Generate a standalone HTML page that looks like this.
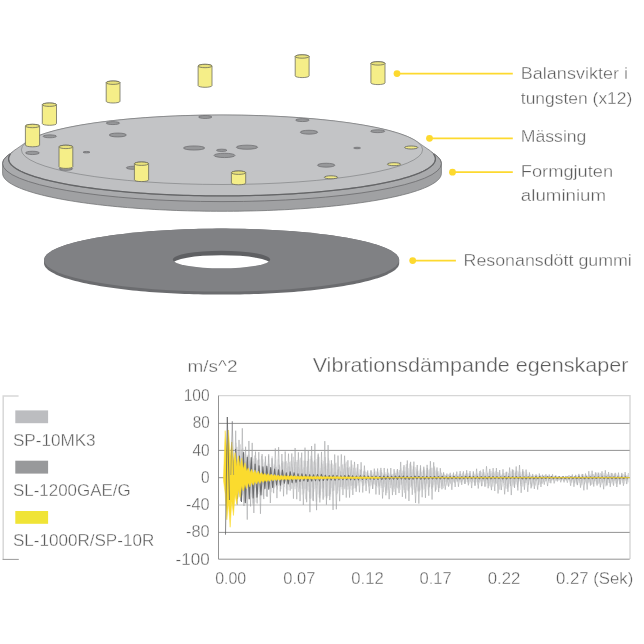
<!DOCTYPE html>
<html lang="sv"><head><meta charset="utf-8"><title>Vibrationsdämpande egenskaper</title>
<style>
html,body{margin:0;padding:0;background:#fff}
svg{display:block}
text{font-family:"Liberation Sans",sans-serif;fill:#5c5c5c;stroke:#fff;stroke-width:0.34px}
</style></head><body>
<svg width="644" height="644" viewBox="0 0 644 644">
<path d="M44 260.1 L44.06 259.27 L44.24 258.45 L44.55 257.63 L44.97 256.81 L45.52 255.99 L46.19 255.17 L46.97 254.36 L47.88 253.55 L48.91 252.75 L50.05 251.95 L51.31 251.15 L52.69 250.37 L54.19 249.59 L55.8 248.81 L57.52 248.04 L59.35 247.29 L61.3 246.54 L63.36 245.8 L65.52 245.07 L67.79 244.35 L70.17 243.64 L72.65 242.94 L75.23 242.26 L77.92 241.59 L80.7 240.92 L83.58 240.28 L86.55 239.64 L89.62 239.02 L92.77 238.42 L96.02 237.83 L99.35 237.25 L102.76 236.69 L106.26 236.15 L109.83 235.62 L113.48 235.11 L117.21 234.62 L121.01 234.14 L124.87 233.68 L128.8 233.24 L132.8 232.82 L136.86 232.42 L140.97 232.03 L145.14 231.67 L149.36 231.32 L153.63 231 L157.95 230.69 L162.32 230.41 L166.72 230.14 L171.16 229.9 L175.63 229.67 L180.14 229.47 L184.68 229.29 L189.24 229.13 L193.82 228.99 L198.42 228.87 L203.04 228.77 L207.67 228.7 L212.31 228.64 L216.95 228.61 L221.6 228.6 L226.25 228.61 L230.9 228.64 L235.53 228.7 L240.16 228.77 L244.78 228.87 L249.38 228.99 L253.97 229.13 L258.52 229.29 L263.06 229.47 L267.57 229.67 L272.04 229.9 L276.48 230.14 L280.88 230.41 L285.25 230.69 L289.56 231 L293.84 231.32 L298.06 231.67 L302.23 232.03 L306.34 232.42 L310.4 232.82 L314.4 233.24 L318.33 233.68 L322.19 234.14 L325.99 234.62 L329.72 235.11 L333.37 235.62 L336.94 236.15 L340.44 236.69 L343.85 237.25 L347.18 237.83 L350.43 238.42 L353.58 239.02 L356.65 239.64 L359.62 240.28 L362.5 240.92 L365.28 241.59 L367.96 242.26 L370.55 242.94 L373.03 243.64 L375.41 244.35 L377.68 245.07 L379.84 245.8 L381.9 246.54 L383.85 247.29 L385.68 248.04 L387.4 248.81 L389.01 249.59 L390.51 250.37 L391.89 251.15 L393.15 251.95 L394.29 252.75 L395.32 253.55 L396.23 254.36 L397.01 255.17 L397.68 255.99 L398.23 256.81 L398.65 257.63 L398.96 258.45 L399.14 259.27 L399.2 260.1 L399.2 263.1 L399.14 263.93 L398.96 264.75 L398.65 265.57 L398.23 266.39 L397.68 267.21 L397.01 268.03 L396.23 268.84 L395.32 269.65 L394.29 270.45 L393.15 271.25 L391.89 272.05 L390.51 272.83 L389.01 273.62 L387.4 274.39 L385.68 275.15 L383.85 275.91 L381.9 276.66 L379.84 277.4 L377.68 278.13 L375.41 278.85 L373.03 279.56 L370.55 280.26 L367.96 280.94 L365.28 281.62 L362.5 282.28 L359.62 282.92 L356.65 283.56 L353.58 284.18 L350.43 284.78 L347.18 285.37 L343.85 285.95 L340.44 286.51 L336.94 287.05 L333.37 287.58 L329.72 288.09 L325.99 288.58 L322.19 289.06 L318.33 289.52 L314.4 289.96 L310.4 290.38 L306.34 290.78 L302.23 291.17 L298.06 291.53 L293.84 291.88 L289.56 292.2 L285.25 292.51 L280.88 292.79 L276.48 293.06 L272.04 293.3 L267.57 293.53 L263.06 293.73 L258.52 293.91 L253.97 294.07 L249.38 294.21 L244.78 294.33 L240.16 294.43 L235.53 294.5 L230.9 294.56 L226.25 294.59 L221.6 294.6 L216.95 294.59 L212.31 294.56 L207.67 294.5 L203.04 294.43 L198.42 294.33 L193.82 294.21 L189.24 294.07 L184.68 293.91 L180.14 293.73 L175.63 293.53 L171.16 293.3 L166.72 293.06 L162.32 292.79 L157.95 292.51 L153.63 292.2 L149.36 291.88 L145.14 291.53 L140.97 291.17 L136.86 290.78 L132.8 290.38 L128.8 289.96 L124.87 289.52 L121.01 289.06 L117.21 288.58 L113.48 288.09 L109.83 287.58 L106.26 287.05 L102.76 286.51 L99.35 285.95 L96.02 285.37 L92.77 284.78 L89.62 284.18 L86.55 283.56 L83.58 282.92 L80.7 282.28 L77.92 281.62 L75.23 280.94 L72.65 280.26 L70.17 279.56 L67.79 278.85 L65.52 278.13 L63.36 277.4 L61.3 276.66 L59.35 275.91 L57.52 275.15 L55.8 274.39 L54.19 273.62 L52.69 272.83 L51.31 272.05 L50.05 271.25 L48.91 270.45 L47.88 269.65 L46.97 268.84 L46.19 268.03 L45.52 267.21 L44.97 266.39 L44.55 265.57 L44.24 264.75 L44.06 263.93 L44 263.1Z" fill="#6b6c6f"/>
<ellipse cx="221.6" cy="260.1" rx="177.6" ry="31.5" fill="#808184"/>
<ellipse cx="221.5" cy="259.55" rx="48.7" ry="8.75" fill="#5f6063"/>
<clipPath id="hc"><ellipse cx="221.5" cy="259.55" rx="48.7" ry="8.75"/></clipPath>
<ellipse cx="221.5" cy="263.9" rx="48.7" ry="8.75" fill="#fff" clip-path="url(#hc)"/>
<path d="M2.6 163.6 L2.67 162.6 L2.9 161.61 L3.28 160.62 L3.8 159.63 L4.48 158.64 L5.3 157.66 L6.27 156.68 L7.39 155.7 L8.66 154.73 L10.08 153.76 L11.63 152.81 L13.34 151.86 L15.18 150.91 L17.17 149.98 L19.3 149.06 L21.57 148.14 L23.97 147.24 L26.51 146.35 L29.19 145.47 L31.99 144.6 L34.93 143.75 L38 142.9 L41.19 142.08 L44.5 141.26 L47.94 140.47 L51.49 139.69 L55.17 138.92 L58.95 138.17 L62.85 137.44 L66.86 136.73 L70.97 136.04 L75.19 135.36 L79.51 134.71 L83.93 134.07 L88.44 133.45 L93.04 132.86 L97.73 132.28 L102.51 131.73 L107.36 131.2 L112.3 130.69 L117.31 130.21 L122.39 129.74 L127.55 129.3 L132.76 128.88 L138.04 128.49 L143.37 128.12 L148.76 127.78 L154.2 127.46 L159.69 127.17 L165.22 126.89 L170.78 126.65 L176.38 126.43 L182.02 126.24 L187.68 126.07 L193.36 125.92 L199.07 125.81 L204.79 125.72 L210.52 125.65 L216.26 125.61 L222 125.6 L227.74 125.61 L233.48 125.65 L239.21 125.72 L244.93 125.81 L250.64 125.92 L256.32 126.07 L261.98 126.24 L267.62 126.43 L273.22 126.65 L278.79 126.89 L284.31 127.17 L289.8 127.46 L295.24 127.78 L300.63 128.12 L305.96 128.49 L311.24 128.88 L316.45 129.3 L321.61 129.74 L326.69 130.21 L331.7 130.69 L336.64 131.2 L341.49 131.73 L346.27 132.28 L350.96 132.86 L355.56 133.45 L360.07 134.07 L364.49 134.71 L368.81 135.36 L373.02 136.04 L377.14 136.73 L381.15 137.44 L385.05 138.17 L388.83 138.92 L392.51 139.69 L396.06 140.47 L399.5 141.26 L402.81 142.08 L406 142.9 L409.07 143.75 L412.01 144.6 L414.81 145.47 L417.49 146.35 L420.03 147.24 L422.43 148.14 L424.7 149.06 L426.83 149.98 L428.82 150.91 L430.66 151.86 L432.37 152.81 L433.92 153.76 L435.34 154.73 L436.61 155.7 L437.73 156.68 L438.7 157.66 L439.52 158.64 L440.2 159.63 L440.72 160.62 L441.1 161.61 L441.32 162.6 L441.4 163.6 L441.4 173.3 L441.32 174.29 L441.1 175.29 L440.72 176.28 L440.2 177.27 L439.52 178.26 L438.7 179.25 L437.73 180.22 L436.61 181.2 L435.34 182.17 L433.92 183.13 L432.37 184.09 L430.66 185.04 L428.82 185.99 L426.83 186.92 L424.7 187.84 L422.43 188.76 L420.03 189.66 L417.49 190.55 L414.81 191.43 L412.01 192.3 L409.07 193.16 L406 194 L402.81 194.82 L399.5 195.64 L396.06 196.43 L392.51 197.21 L388.83 197.98 L385.05 198.73 L381.15 199.46 L377.14 200.17 L373.02 200.86 L368.81 201.54 L364.49 202.19 L360.07 202.83 L355.56 203.45 L350.96 204.04 L346.27 204.62 L341.49 205.17 L336.64 205.7 L331.7 206.21 L326.69 206.69 L321.61 207.16 L316.45 207.6 L311.24 208.01 L305.96 208.41 L300.63 208.78 L295.24 209.12 L289.8 209.44 L284.31 209.74 L278.79 210 L273.22 210.25 L267.62 210.47 L261.98 210.66 L256.32 210.83 L250.64 210.97 L244.93 211.09 L239.21 211.18 L233.48 211.25 L227.74 211.29 L222 211.3 L216.26 211.29 L210.52 211.25 L204.79 211.18 L199.07 211.09 L193.36 210.97 L187.68 210.83 L182.02 210.66 L176.38 210.47 L170.78 210.25 L165.22 210 L159.69 209.74 L154.2 209.44 L148.76 209.12 L143.37 208.78 L138.04 208.41 L132.76 208.01 L127.55 207.6 L122.39 207.16 L117.31 206.69 L112.3 206.21 L107.36 205.7 L102.51 205.17 L97.73 204.62 L93.04 204.04 L88.44 203.45 L83.93 202.83 L79.51 202.19 L75.19 201.54 L70.97 200.86 L66.86 200.17 L62.85 199.46 L58.95 198.73 L55.17 197.98 L51.49 197.21 L47.94 196.43 L44.5 195.64 L41.19 194.82 L38 194 L34.93 193.16 L31.99 192.3 L29.19 191.43 L26.51 190.55 L23.97 189.66 L21.57 188.76 L19.3 187.84 L17.17 186.92 L15.18 185.99 L13.34 185.04 L11.63 184.09 L10.08 183.13 L8.66 182.17 L7.39 181.2 L6.27 180.22 L5.3 179.25 L4.48 178.26 L3.8 177.27 L3.28 176.28 L2.9 175.29 L2.67 174.29 L2.6 173.3Z" fill="#a0a1a3" stroke="#696a6c" stroke-width="0.7"/>
<ellipse cx="222" cy="163.6" rx="219.4" ry="38" fill="#a9aaac" stroke="#696a6c" stroke-width="0.8"/>
<path d="M8.6 158.9 L8.67 157.93 L8.89 156.96 L9.26 156 L9.77 155.03 L10.43 154.07 L11.23 153.11 L12.17 152.16 L13.26 151.21 L14.5 150.26 L15.87 149.32 L17.39 148.39 L19.05 147.47 L20.84 146.55 L22.77 145.64 L24.84 144.74 L27.05 143.85 L29.39 142.97 L31.86 142.1 L34.46 141.25 L37.19 140.4 L40.05 139.57 L43.03 138.75 L46.13 137.94 L49.36 137.15 L52.7 136.38 L56.16 135.62 L59.73 134.87 L63.41 134.14 L67.2 133.43 L71.1 132.74 L75.11 132.06 L79.21 131.4 L83.41 130.76 L87.7 130.15 L92.09 129.55 L96.57 128.97 L101.13 128.41 L105.77 127.87 L110.5 127.35 L115.3 126.86 L120.17 126.38 L125.12 125.93 L130.13 125.5 L135.2 125.1 L140.34 124.72 L145.52 124.36 L150.77 124.02 L156.06 123.71 L161.39 123.42 L166.77 123.16 L172.18 122.92 L177.63 122.71 L183.11 122.52 L188.62 122.36 L194.15 122.22 L199.69 122.1 L205.26 122.01 L210.83 121.95 L216.41 121.91 L222 121.9 L227.59 121.91 L233.17 121.95 L238.74 122.01 L244.31 122.1 L249.85 122.22 L255.38 122.36 L260.89 122.52 L266.37 122.71 L271.82 122.92 L277.23 123.16 L282.61 123.42 L287.94 123.71 L293.23 124.02 L298.48 124.36 L303.67 124.72 L308.8 125.1 L313.87 125.5 L318.88 125.93 L323.83 126.38 L328.7 126.86 L333.5 127.35 L338.23 127.87 L342.87 128.41 L347.43 128.97 L351.91 129.55 L356.3 130.15 L360.59 130.76 L364.79 131.4 L368.89 132.06 L372.9 132.74 L376.8 133.43 L380.59 134.14 L384.27 134.87 L387.84 135.62 L391.3 136.38 L394.64 137.15 L397.87 137.94 L400.97 138.75 L403.95 139.57 L406.81 140.4 L409.54 141.25 L412.14 142.1 L414.61 142.97 L416.95 143.85 L419.16 144.74 L421.23 145.64 L423.16 146.55 L424.95 147.47 L426.61 148.39 L428.13 149.32 L429.5 150.26 L430.74 151.21 L431.83 152.16 L432.77 153.11 L433.57 154.07 L434.23 155.03 L434.74 156 L435.11 156.96 L435.33 157.93 L435.4 158.9 L435.4 163.5 L435.33 164.47 L435.11 165.44 L434.74 166.4 L434.23 167.37 L433.57 168.33 L432.77 169.29 L431.83 170.24 L430.74 171.19 L429.5 172.14 L428.13 173.08 L426.61 174.01 L424.95 174.93 L423.16 175.85 L421.23 176.76 L419.16 177.66 L416.95 178.55 L414.61 179.43 L412.14 180.3 L409.54 181.16 L406.81 182 L403.95 182.83 L400.97 183.65 L397.87 184.46 L394.64 185.25 L391.3 186.02 L387.84 186.78 L384.27 187.53 L380.59 188.26 L376.8 188.97 L372.9 189.66 L368.89 190.34 L364.79 191 L360.59 191.63 L356.3 192.25 L351.91 192.85 L347.43 193.43 L342.87 193.99 L338.23 194.53 L333.5 195.05 L328.7 195.54 L323.83 196.02 L318.88 196.47 L313.87 196.9 L308.8 197.3 L303.67 197.68 L298.48 198.04 L293.23 198.38 L287.94 198.69 L282.61 198.98 L277.23 199.24 L271.82 199.48 L266.37 199.69 L260.89 199.88 L255.38 200.04 L249.85 200.18 L244.31 200.3 L238.74 200.39 L233.17 200.45 L227.59 200.49 L222 200.5 L216.41 200.49 L210.83 200.45 L205.26 200.39 L199.69 200.3 L194.15 200.18 L188.62 200.04 L183.11 199.88 L177.63 199.69 L172.18 199.48 L166.77 199.24 L161.39 198.98 L156.06 198.69 L150.77 198.38 L145.52 198.04 L140.34 197.68 L135.2 197.3 L130.13 196.9 L125.12 196.47 L120.17 196.02 L115.3 195.54 L110.5 195.05 L105.77 194.53 L101.13 193.99 L96.57 193.43 L92.09 192.85 L87.7 192.25 L83.41 191.63 L79.21 191 L75.11 190.34 L71.1 189.66 L67.2 188.97 L63.41 188.26 L59.73 187.53 L56.16 186.78 L52.7 186.02 L49.36 185.25 L46.13 184.46 L43.03 183.65 L40.05 182.83 L37.19 182 L34.46 181.16 L31.86 180.3 L29.39 179.43 L27.05 178.55 L24.84 177.66 L22.77 176.76 L20.84 175.85 L19.05 174.93 L17.39 174.01 L15.87 173.08 L14.5 172.14 L13.26 171.19 L12.17 170.24 L11.23 169.29 L10.43 168.33 L9.77 167.37 L9.26 166.4 L8.89 165.44 L8.67 164.47 L8.6 163.5Z" fill="#a9aaac"/>
<path d="M8.6 158.9 L8.67 157.93 L8.89 156.96 L9.26 156 L9.77 155.03 L10.43 154.07 L11.23 153.11 L12.17 152.16 L13.26 151.21 L14.5 150.26 L26.94 141.64 L28.23 140.76 L29.66 139.88 L31.22 139.01 L32.91 138.15 L34.72 137.3 L36.67 136.45 L38.74 135.62 L40.94 134.79 L43.26 133.97 L45.71 133.17 L48.27 132.38 L50.96 131.59 L53.76 130.82 L56.68 130.07 L59.71 129.32 L62.85 128.6 L66.11 127.88 L69.46 127.18 L72.92 126.5 L76.49 125.83 L80.15 125.18 L83.92 124.54 L87.77 123.93 L91.72 123.33 L95.76 122.74 L99.88 122.18 L104.09 121.64 L108.38 121.11 L112.75 120.61 L117.19 120.12 L121.7 119.66 L126.28 119.21 L130.93 118.79 L135.64 118.39 L140.41 118 L145.23 117.64 L150.11 117.31 L155.04 116.99 L160.01 116.7 L165.03 116.43 L170.08 116.18 L175.17 115.96 L180.29 115.76 L185.44 115.58 L190.62 115.43 L195.82 115.3 L201.03 115.19 L206.26 115.11 L211.5 115.05 L216.75 115.01 L222 115 L227.25 115.01 L232.5 115.05 L237.74 115.11 L242.97 115.19 L248.18 115.3 L253.38 115.43 L258.56 115.58 L263.71 115.76 L268.83 115.96 L273.92 116.18 L278.97 116.43 L283.99 116.7 L288.96 116.99 L293.89 117.31 L298.77 117.64 L303.59 118 L308.36 118.39 L313.07 118.79 L317.72 119.21 L322.3 119.66 L326.81 120.12 L331.25 120.61 L335.62 121.11 L339.91 121.64 L344.12 122.18 L348.24 122.74 L352.28 123.33 L356.23 123.93 L360.08 124.54 L363.85 125.18 L367.51 125.83 L371.07 126.5 L374.54 127.18 L377.89 127.88 L381.15 128.6 L384.29 129.32 L387.32 130.07 L390.24 130.82 L393.04 131.59 L395.73 132.38 L398.29 133.17 L400.74 133.97 L403.06 134.79 L405.26 135.62 L407.33 136.45 L409.28 137.3 L411.09 138.15 L412.78 139.01 L414.34 139.88 L415.76 140.76 L417.06 141.64 L429.5 150.26 L430.74 151.21 L431.83 152.16 L432.77 153.11 L433.57 154.07 L434.23 155.03 L434.74 156 L435.11 156.96 L435.33 157.93 L435.4 158.9 L435.33 159.87 L435.11 160.84 L434.74 161.8 L434.23 162.77 L433.57 163.73 L432.77 164.69 L431.83 165.64 L430.74 166.59 L429.5 167.54 L428.13 168.48 L426.61 169.41 L424.95 170.33 L423.16 171.25 L421.23 172.16 L419.16 173.06 L416.95 173.95 L414.61 174.83 L412.14 175.7 L409.54 176.56 L406.81 177.4 L403.95 178.23 L400.97 179.05 L397.87 179.86 L394.64 180.65 L391.3 181.42 L387.84 182.19 L384.27 182.93 L380.59 183.66 L376.8 184.37 L372.9 185.06 L368.89 185.74 L364.79 186.4 L360.59 187.03 L356.3 187.65 L351.91 188.25 L347.43 188.83 L342.87 189.39 L338.23 189.93 L333.5 190.45 L328.7 190.94 L323.83 191.42 L318.88 191.87 L313.87 192.3 L308.8 192.7 L303.67 193.08 L298.48 193.44 L293.23 193.78 L287.94 194.09 L282.61 194.38 L277.23 194.64 L271.82 194.88 L266.37 195.09 L260.89 195.28 L255.38 195.44 L249.85 195.58 L244.31 195.7 L238.74 195.79 L233.17 195.85 L227.59 195.89 L222 195.9 L216.41 195.89 L210.83 195.85 L205.26 195.79 L199.69 195.7 L194.15 195.58 L188.62 195.44 L183.11 195.28 L177.63 195.09 L172.18 194.88 L166.77 194.64 L161.39 194.38 L156.06 194.09 L150.77 193.78 L145.52 193.44 L140.34 193.08 L135.2 192.7 L130.13 192.3 L125.12 191.87 L120.17 191.42 L115.3 190.94 L110.5 190.45 L105.77 189.93 L101.13 189.39 L96.57 188.83 L92.09 188.25 L87.7 187.65 L83.41 187.03 L79.21 186.4 L75.11 185.74 L71.1 185.06 L67.2 184.37 L63.41 183.66 L59.73 182.93 L56.16 182.19 L52.7 181.42 L49.36 180.65 L46.13 179.86 L43.03 179.05 L40.05 178.23 L37.19 177.4 L34.46 176.56 L31.86 175.7 L29.39 174.83 L27.05 173.95 L24.84 173.06 L22.77 172.16 L20.84 171.25 L19.05 170.33 L17.39 169.41 L15.87 168.48 L14.5 167.54 L13.26 166.59 L12.17 165.64 L11.23 164.69 L10.43 163.73 L9.77 162.77 L9.26 161.8 L8.89 160.84 L8.67 159.87Z" fill="#bfc0c2" stroke="#696a6c" stroke-width="0.6"/>
<path d="M433.57 154.07 L434.23 155.03 L434.74 156 L435.11 156.96 L435.33 157.93 L435.4 158.9 L435.33 159.87 L435.11 160.84 L434.74 161.8 L434.23 162.77 L433.57 163.73 L432.77 164.69 L431.83 165.64 L430.74 166.59 L429.5 167.54 L428.13 168.48 L426.61 169.41 L424.95 170.33 L423.16 171.25 L421.23 172.16 L419.16 173.06 L416.95 173.95 L414.61 174.83 L412.14 175.7 L409.54 176.56 L406.81 177.4 L403.95 178.23 L400.97 179.05 L397.87 179.86 L394.64 180.65 L391.3 181.42 L387.84 182.19 L384.27 182.93 L380.59 183.66 L376.8 184.37 L372.9 185.06 L368.89 185.74 L364.79 186.4 L360.59 187.03 L356.3 187.65 L351.91 188.25 L347.43 188.83 L342.87 189.39 L338.23 189.93 L333.5 190.45 L328.7 190.94 L323.83 191.42 L318.88 191.87 L313.87 192.3 L308.8 192.7 L303.67 193.08 L298.48 193.44 L293.23 193.78 L287.94 194.09 L282.61 194.38 L277.23 194.64 L271.82 194.88 L266.37 195.09 L260.89 195.28 L255.38 195.44 L249.85 195.58 L244.31 195.7 L238.74 195.79 L233.17 195.85 L227.59 195.89 L222 195.9 L216.41 195.89 L210.83 195.85 L205.26 195.79 L199.69 195.7 L194.15 195.58 L188.62 195.44 L183.11 195.28 L177.63 195.09 L172.18 194.88 L166.77 194.64 L161.39 194.38 L156.06 194.09 L150.77 193.78 L145.52 193.44 L140.34 193.08 L135.2 192.7 L130.13 192.3 L125.12 191.87 L120.17 191.42 L115.3 190.94 L110.5 190.45 L105.77 189.93 L101.13 189.39 L96.57 188.83 L92.09 188.25 L87.7 187.65 L83.41 187.03 L79.21 186.4 L75.11 185.74 L71.1 185.06 L67.2 184.37 L63.41 183.66 L59.73 182.93 L56.16 182.19 L52.7 181.42 L49.36 180.65 L46.13 179.86 L43.03 179.05 L40.05 178.23 L37.19 177.4 L34.46 176.56 L31.86 175.7 L29.39 174.83 L27.05 173.95 L24.84 173.06 L22.77 172.16 L20.84 171.25 L19.05 170.33 L17.39 169.41 L15.87 168.48 L14.5 167.54 L13.26 166.59 L12.17 165.64 L11.23 164.69 L10.43 163.73 L9.77 162.77 L9.26 161.8 L8.89 160.84 L8.67 159.87 L8.6 158.9 L8.67 157.93 L8.89 156.96 L9.26 156 L9.77 155.03 L10.43 154.07" fill="none" stroke="#646567" stroke-width="1.3"/>
<ellipse cx="222" cy="149.75" rx="200.6" ry="34.75" fill="#c3c4c6" stroke="#696a6c" stroke-width="0.5"/>
<ellipse cx="205.2" cy="117" rx="6.7" ry="1.45" fill="#97989a" stroke="#68696b" stroke-width="0.7"/>
<ellipse cx="194.1" cy="148" rx="10.7" ry="2.05" fill="#97989a" stroke="#68696b" stroke-width="0.7"/>
<ellipse cx="247" cy="147.2" rx="10.7" ry="2.05" fill="#97989a" stroke="#68696b" stroke-width="0.7"/>
<ellipse cx="224.5" cy="155.4" rx="10.5" ry="2.15" fill="#97989a" stroke="#68696b" stroke-width="0.7"/>
<ellipse cx="221.7" cy="150.3" rx="5.2" ry="1.15" fill="#97989a" stroke="#68696b" stroke-width="0.7"/>
<ellipse cx="112.9" cy="123.1" rx="6.7" ry="1.45" fill="#97989a" stroke="#68696b" stroke-width="0.7"/>
<ellipse cx="117.8" cy="135" rx="8.6" ry="1.95" fill="#97989a" stroke="#68696b" stroke-width="0.7"/>
<ellipse cx="49.8" cy="136.3" rx="6.7" ry="1.45" fill="#97989a" stroke="#68696b" stroke-width="0.7"/>
<ellipse cx="32.4" cy="152.9" rx="6.9" ry="1.65" fill="#97989a" stroke="#68696b" stroke-width="0.7"/>
<ellipse cx="86.5" cy="152.2" rx="3.4" ry="0.75" fill="#97989a" stroke="#68696b" stroke-width="0.7"/>
<ellipse cx="65.9" cy="168.8" rx="6.7" ry="1.55" fill="#97989a" stroke="#68696b" stroke-width="0.7"/>
<ellipse cx="133.5" cy="167.8" rx="7.2" ry="1.55" fill="#97989a" stroke="#68696b" stroke-width="0.7"/>
<ellipse cx="302.4" cy="120.1" rx="6.8" ry="1.45" fill="#97989a" stroke="#68696b" stroke-width="0.7"/>
<ellipse cx="309" cy="132.2" rx="8.7" ry="1.95" fill="#97989a" stroke="#68696b" stroke-width="0.7"/>
<ellipse cx="377.7" cy="131.2" rx="7.1" ry="1.45" fill="#97989a" stroke="#68696b" stroke-width="0.7"/>
<ellipse cx="357.1" cy="148" rx="3.4" ry="0.75" fill="#97989a" stroke="#68696b" stroke-width="0.7"/>
<ellipse cx="326.2" cy="165.2" rx="8.7" ry="1.95" fill="#97989a" stroke="#68696b" stroke-width="0.7"/>
<ellipse cx="411.2" cy="147.5" rx="6.6" ry="1.5" fill="#f1ea84" stroke="#626258" stroke-width="0.8"/>
<ellipse cx="394" cy="164.2" rx="6.7" ry="1.5" fill="#f1ea84" stroke="#626258" stroke-width="0.8"/>
<ellipse cx="331" cy="177.3" rx="6.7" ry="1.5" fill="#f1ea84" stroke="#626258" stroke-width="0.8"/>
<path d="M198.1 66 L198.1 85.6 A6.95 1.7 0 0 0 212 85.6 L212 66 A6.95 1.7 0 0 0 198.1 66Z" fill="#f5ee88" stroke="#66665a" stroke-width="0.75"/>
<ellipse cx="205.05" cy="66" rx="6.95" ry="1.7" fill="#e9e27a" stroke="#66665a" stroke-width="0.75"/>
<path d="M106.2 82.7 L106.2 101.3 A6.9 1.7 0 0 0 120 101.3 L120 82.7 A6.9 1.7 0 0 0 106.2 82.7Z" fill="#f5ee88" stroke="#66665a" stroke-width="0.75"/>
<ellipse cx="113.1" cy="82.7" rx="6.9" ry="1.7" fill="#e9e27a" stroke="#66665a" stroke-width="0.75"/>
<path d="M42.3 104.7 L42.3 123.6 A7.1 1.7 0 0 0 56.5 123.6 L56.5 104.7 A7.1 1.7 0 0 0 42.3 104.7Z" fill="#f5ee88" stroke="#66665a" stroke-width="0.75"/>
<ellipse cx="49.4" cy="104.7" rx="7.1" ry="1.7" fill="#e9e27a" stroke="#66665a" stroke-width="0.75"/>
<path d="M25.4 126 L25.4 145.1 A7.1 1.7 0 0 0 39.6 145.1 L39.6 126 A7.1 1.7 0 0 0 25.4 126Z" fill="#f5ee88" stroke="#66665a" stroke-width="0.75"/>
<ellipse cx="32.5" cy="126" rx="7.1" ry="1.7" fill="#e9e27a" stroke="#66665a" stroke-width="0.75"/>
<path d="M59 146.9 L59 166.7 A6.9 1.7 0 0 0 72.8 166.7 L72.8 146.9 A6.9 1.7 0 0 0 59 146.9Z" fill="#f5ee88" stroke="#66665a" stroke-width="0.75"/>
<ellipse cx="65.9" cy="146.9" rx="6.9" ry="1.7" fill="#e9e27a" stroke="#66665a" stroke-width="0.75"/>
<path d="M134.4 163.7 L134.4 179.9 A7.1 1.7 0 0 0 148.6 179.9 L148.6 163.7 A7.1 1.7 0 0 0 134.4 163.7Z" fill="#f5ee88" stroke="#66665a" stroke-width="0.75"/>
<ellipse cx="141.5" cy="163.7" rx="7.1" ry="1.7" fill="#e9e27a" stroke="#66665a" stroke-width="0.75"/>
<path d="M295.2 56.5 L295.2 75.9 A6.95 1.7 0 0 0 309.1 75.9 L309.1 56.5 A6.95 1.7 0 0 0 295.2 56.5Z" fill="#f5ee88" stroke="#66665a" stroke-width="0.75"/>
<ellipse cx="302.15" cy="56.5" rx="6.95" ry="1.7" fill="#e9e27a" stroke="#66665a" stroke-width="0.75"/>
<path d="M370.9 63.4 L370.9 82.9 A7.05 1.7 0 0 0 385 82.9 L385 63.4 A7.05 1.7 0 0 0 370.9 63.4Z" fill="#f5ee88" stroke="#66665a" stroke-width="0.75"/>
<ellipse cx="377.95" cy="63.4" rx="7.05" ry="1.7" fill="#e9e27a" stroke="#66665a" stroke-width="0.75"/>
<path d="M231.4 172.7 L231.4 183.1 A7.15 1.7 0 0 0 245.7 183.1 L245.7 172.7 A7.15 1.7 0 0 0 231.4 172.7Z" fill="#f5ee88" stroke="#66665a" stroke-width="0.75"/>
<ellipse cx="238.55" cy="172.7" rx="7.15" ry="1.7" fill="#e9e27a" stroke="#66665a" stroke-width="0.75"/>
<line x1="397" y1="73.6" x2="512.8" y2="73.6" stroke="#fdd92f" stroke-width="1.7"/>
<circle cx="397" cy="73.6" r="3.4" fill="#fdd92f"/>
<line x1="429.5" y1="138.3" x2="512.8" y2="138.3" stroke="#fdd92f" stroke-width="1.7"/>
<circle cx="429.5" cy="138.3" r="3.4" fill="#fdd92f"/>
<line x1="452.5" y1="172.2" x2="512.8" y2="172.2" stroke="#fdd92f" stroke-width="1.7"/>
<circle cx="452.5" cy="172.2" r="3.4" fill="#fdd92f"/>
<line x1="412.7" y1="260.6" x2="455.9" y2="260.6" stroke="#fdd92f" stroke-width="1.7"/>
<circle cx="412.7" cy="260.6" r="3.4" fill="#fdd92f"/>
<text x="520.82" y="79.1" font-size="16.3" textLength="107.12" lengthAdjust="spacingAndGlyphs" text-anchor="start">Balansvikter i</text>
<text x="520.82" y="103.9" font-size="16.3" textLength="111.52" lengthAdjust="spacingAndGlyphs" text-anchor="start">tungsten (x12)</text>
<text x="520.82" y="141.7" font-size="16.3" textLength="65.62" lengthAdjust="spacingAndGlyphs" text-anchor="start">Mässing</text>
<text x="520.82" y="176.7" font-size="16.3" textLength="92.32" lengthAdjust="spacingAndGlyphs" text-anchor="start">Formgjuten</text>
<text x="520.82" y="200.8" font-size="16.3" textLength="85.32" lengthAdjust="spacingAndGlyphs" text-anchor="start">aluminium</text>
<text x="463.52" y="265.8" font-size="16.3" textLength="168.32" lengthAdjust="spacingAndGlyphs" text-anchor="start">Resonansdött gummi</text>
<text x="312.65" y="371.7" font-size="20.8" textLength="315.78" lengthAdjust="spacingAndGlyphs" text-anchor="start">Vibrationsdämpande egenskaper</text>
<text x="187.45" y="371.7" font-size="15.8" textLength="50.08" lengthAdjust="spacingAndGlyphs" text-anchor="start">m/s^2</text>
<text x="12.92" y="445.5" font-size="16.3" textLength="82.72" lengthAdjust="spacingAndGlyphs" text-anchor="start">SP-10MK3</text>
<text x="12.92" y="495.7" font-size="16.3" textLength="117.82" lengthAdjust="spacingAndGlyphs" text-anchor="start">SL-1200GAE/G</text>
<text x="12.92" y="546.2" font-size="16.3" textLength="141.32" lengthAdjust="spacingAndGlyphs" text-anchor="start">SL-1000R/SP-10R</text>
<rect x="15.3" y="410.4" width="32.8" height="12.8" fill="#bcbdc0"/>
<rect x="15.3" y="460.7" width="32.8" height="12.9" fill="#98999b"/>
<rect x="15.3" y="511" width="32.8" height="12.8" fill="#f0e436"/>
<path d="M18.6 396H3.2V559.5" fill="none" stroke="#d8d8d8" stroke-width="1.5"/>
<path d="M2.6 559.4H18.8" fill="none" stroke="#9a9a9a" stroke-width="1"/>
<text x="209.7" y="401.3" font-size="15.6" textLength="26" lengthAdjust="spacingAndGlyphs" text-anchor="end">100</text>
<text x="209.7" y="428.3" font-size="15.6" textLength="17" lengthAdjust="spacingAndGlyphs" text-anchor="end">80</text>
<text x="209.7" y="455.5" font-size="15.6" textLength="17.2" lengthAdjust="spacingAndGlyphs" text-anchor="end">40</text>
<text x="209.7" y="482.6" font-size="15.6" textLength="8.6" lengthAdjust="spacingAndGlyphs" text-anchor="end">0</text>
<text x="209.7" y="510.2" font-size="15.6" textLength="23.6" lengthAdjust="spacingAndGlyphs" text-anchor="end">-40</text>
<text x="209.7" y="537.3" font-size="15.6" textLength="23.6" lengthAdjust="spacingAndGlyphs" text-anchor="end">-80</text>
<text x="209.7" y="564.5" font-size="15.6" textLength="34.2" lengthAdjust="spacingAndGlyphs" text-anchor="end">-100</text>
<text x="215.16" y="583.6" font-size="15.6" textLength="31.06" lengthAdjust="spacingAndGlyphs" text-anchor="start">0.00</text>
<text x="283.26" y="583.6" font-size="15.6" textLength="32.06" lengthAdjust="spacingAndGlyphs" text-anchor="start">0.07</text>
<text x="351.26" y="583.6" font-size="15.6" textLength="32.46" lengthAdjust="spacingAndGlyphs" text-anchor="start">0.12</text>
<text x="419.56" y="583.6" font-size="15.6" textLength="32.26" lengthAdjust="spacingAndGlyphs" text-anchor="start">0.17</text>
<text x="487.66" y="583.6" font-size="15.6" textLength="32.66" lengthAdjust="spacingAndGlyphs" text-anchor="start">0.22</text>
<text x="556.06" y="583.6" font-size="15.6" textLength="77.26" lengthAdjust="spacingAndGlyphs" text-anchor="start">0.27 (Sek)</text>
<g fill="none">
<path d="M218.5 395.6H630V559" stroke="#d6d6d6" stroke-width="1.4"/>
<path d="M218.5 395.6V559.2H629.7" stroke="#939393" stroke-width="1"/>
<line x1="218.5" y1="423.4" x2="629.7" y2="423.4" stroke="#868686" stroke-width="0.9"/>
<line x1="218.5" y1="450.4" x2="629.7" y2="450.4" stroke="#868686" stroke-width="0.9"/>
<line x1="218.5" y1="477.7" x2="629.7" y2="477.7" stroke="#808080" stroke-width="0.9"/>
<line x1="218.5" y1="505" x2="629.7" y2="505" stroke="#b8b8b8" stroke-width="0.9"/>
<line x1="218.5" y1="532.4" x2="629.7" y2="532.4" stroke="#868686" stroke-width="0.9"/>
<path d="M232 474.43 L232.42 482.27 L232.84 470.5 L233.26 484.17 L233.68 463.86 L234.1 481.57 L234.52 470.08 L234.94 489.59 L235.36 463 L235.78 484.96 L236.2 442.81 L236.62 488.96 L237.04 446.71 L237.46 489.98 L237.88 451.54 L238.3 485.92 L238.72 451.65 L239.14 496.89 L239.56 454.58 L239.98 495.74 L240.4 451.32 L240.82 485.6 L241.24 449.6 L241.66 494.68 L242.08 460.65 L242.5 485.64 L242.92 447.86 L243.34 493.71 L243.76 452.45 L244.18 501.33 L244.6 453.85 L245.02 502.52 L245.44 461.44 L245.86 500.69 L246.28 461.45 L246.7 503.64 L247.12 454.73 L247.54 487.87 L247.96 468.07 L248.38 490.38 L248.8 454.65 L249.22 494.95 L249.64 460.79 L250.06 492.23 L250.48 463.19 L250.9 493.66 L251.32 465.88 L251.74 497.23 L252.16 462.43 L252.58 502.96 L253 461.05 L253.42 502.99 L253.84 458.54 L254.26 503.69 L254.68 461.39 L255.1 488.34 L255.52 458.69 L255.94 502.31 L256.36 458.15 L256.78 494.92 L257.2 461.04 L257.62 488.48 L258.04 459.43 L258.46 494.17 L258.88 467.41 L259.3 485.58 L259.72 459.31 L260.14 499.84 L260.56 470.33 L260.98 496.38 L261.4 465.81 L261.82 486.27 L262.24 467.52 L262.66 494.97 L263.08 459.47 L263.5 484.35 L263.92 463.18 L264.34 484.2 L264.76 461.82 L265.18 487.85 L265.6 459.68 L266.02 496.04 L266.44 464.93 L266.86 495.77 L267.28 467.66 L267.7 483.92 L268.12 463.8 L268.54 483.2 L268.96 469.29 L269.38 487.4 L269.8 463.83 L270.22 484.27 L270.64 471.45 L271.06 491.79 L271.48 467.91 L271.9 492.27 L272.32 460.34 L272.74 485.88 L273.16 466.13 L273.58 486.98 L274 463.83 L274.42 487.34 L274.84 465 L275.26 487.19 L275.68 460.21 L276.1 485.93 L276.52 466.68 L276.94 487.71 L277.36 469.08 L277.78 484 L278.2 459.33 L278.62 485.82 L279.04 464.82 L279.46 481.43 L279.88 466.47 L280.3 486.16 L280.72 471.67 L281.14 486.38 L281.56 463.32 L281.98 481.72 L282.4 463.25 L282.82 484.99 L283.24 462.41 L283.66 484 L284.08 461.88 L284.5 487.01 L284.92 471.37 L285.34 481.57 L285.76 462.04 L286.18 488.68 L286.6 468.06 L287.02 484.89 L287.44 463.24 L287.86 483.96 L288.28 466.51 L288.7 484.07 L289.12 466.46 L289.54 486.74 L289.96 467.45 L290.38 485.01 L290.8 460.85 L291.22 481.94 L291.64 463.73 L292.06 488.8 L292.48 467.39 L292.9 484.06 L293.32 460.53 L293.74 484.41 L294.16 469.14 L294.58 486.63 L295 462.07 L295.42 483.34 L295.84 467.31 L296.26 486.02 L296.68 460.27 L297.1 487.42 L297.52 460.01 L297.94 484.57 L298.36 467.18 L298.78 490.41 L299.2 459.68 L299.62 488.32 L300.04 468.73 L300.46 484.49 L300.88 464.55 L301.3 485.61 L301.72 460.75 L302.14 494.66 L302.56 469.3 L302.98 487.6 L303.4 460.74 L303.82 493.35 L304.24 460.76 L304.66 489.49 L305.08 470.04 L305.5 488.83 L305.92 460.82 L306.34 488.46 L306.76 466.93 L307.18 490.65 L307.6 465.84 L308.02 490.48 L308.44 458.73 L308.86 486.57 L309.28 471.57 L309.7 498.44 L310.12 459.09 L310.54 499 L310.96 465.36 L311.38 498.36 L311.8 458.19 L312.22 487.41 L312.64 460.71 L313.06 496.49 L313.48 461.82 L313.9 491.71 L314.32 467.2 L314.74 489.03 L315.16 468.03 L315.58 485.01 L316 462.52 L316.42 488.27 L316.84 458.98 L317.26 484.72 L317.68 457.31 L318.1 494.37 L318.52 456.75 L318.94 497.44 L319.36 456.87 L319.78 492.72 L320.2 470.69 L320.62 495.28 L321.04 468.06 L321.46 488.64 L321.88 459.96 L322.3 492.06 L322.72 463.91 L323.14 498.35 L323.56 460.93 L323.98 489.36 L324.4 466.91 L324.82 497.29 L325.24 463.59 L325.66 496.02 L326.08 465.75 L326.5 487.13 L326.92 463.21 L327.34 496.37 L327.76 468.84 L328.18 495.9 L328.6 458.43 L329.02 496.02 L329.44 460.58 L329.86 484.14 L330.28 463.88 L330.7 496.68 L331.12 471.73 L331.54 487.94 L331.96 469.42 L332.38 491.61 L332.8 468.1 L333.22 490.75 L333.64 464.71 L334.06 483.84 L334.48 472.49 L334.9 485.47 L335.32 471.74 L335.74 484.51 L336.16 462.57 L336.58 494.91 L337 472.15 L337.42 489.92 L337.84 469.67 L338.26 487.24 L338.68 469.29 L339.1 491.2 L339.52 466.76 L339.94 487.39 L340.36 470.99 L340.78 486.85 L341.2 471.65 L341.62 489.42 L342.04 465.01 L342.46 487.19 L342.88 472 L343.3 484.72 L343.72 468.61 L344.14 489.46 L344.56 463.81 L344.98 486.76 L345.4 463.44 L345.82 489.3 L346.24 467.62 L346.66 486.39 L347.08 467.01 L347.5 489.74 L347.92 468.13 L348.34 489.39 L348.76 467.94 L349.18 484.56 L349.6 467.39 L350.02 488.88 L350.44 472.5 L350.86 485.99 L351.28 469.06 L351.7 490.11 L352.12 464.3 L352.54 485.13 L352.96 465.07 L353.38 488.7 L353.8 471.32 L354.22 485.55 L354.64 472.77 L355.06 488.33 L355.48 468.27 L355.9 488.66 L356.32 467.51 L356.74 486.59 L357.16 468.35 L357.58 485.52 L358 473.58 L358.42 485.48 L358.84 474.47 L359.26 481.95 L359.68 469.11 L360.1 481.11 L360.52 474.14 L360.94 481.38 L361.36 469.14 L361.78 481.8 L362.2 474.88 L362.62 485.98 L363.04 474.43 L363.46 485.71 L363.88 471.48 L364.3 485.38 L364.72 470.33 L365.14 483.65 L365.56 471.52 L365.98 480.52 L366.4 472.03 L366.82 483.56 L367.24 472.63 L367.66 481.13 L368.08 472.79 L368.5 486.65 L368.92 475.61 L369.34 482.77 L369.76 473.38 L370.18 486.36 L370.6 474.72 L371.02 481.99 L371.44 474.63 L371.86 485.25 L372.28 472.25 L372.7 483.78 L373.12 473.96 L373.54 483.93 L373.96 473.97 L374.38 484.24 L374.8 475.2 L375.22 485.01 L375.64 470.69 L376.06 484.43 L376.48 471.65 L376.9 482.49 L377.32 471.79 L377.74 487.48 L378.16 471.73 L378.58 485.62 L379 472.63 L379.42 486.81 L379.84 470.15 L380.26 482.69 L380.68 474.64 L381.1 488.01 L381.52 469.91 L381.94 486.1 L382.36 472.79 L382.78 488.04 L383.2 474.33 L383.62 484.06 L384.04 474.35 L384.46 487.1 L384.88 473.84 L385.3 483.91 L385.72 472.06 L386.14 490.86 L386.56 474.16 L386.98 488.64 L387.4 473.71 L387.82 490.23 L388.24 473.05 L388.66 484.45 L389.08 474.83 L389.5 482.03 L389.92 473.8 L390.34 485.37 L390.76 475.21 L391.18 485.06 L391.6 474.7 L392.02 488.78 L392.44 475.36 L392.86 490.6 L393.28 473.71 L393.7 486.91 L394.12 473.49 L394.54 488.86 L394.96 471.44 L395.38 486.29 L395.8 472.86 L396.22 487.57 L396.64 470.47 L397.06 484.72 L397.48 470.8 L397.9 489.29 L398.32 472.11 L398.74 483.25 L399.16 473.35 L399.58 487.51 L400 470.13 L400.42 489.75 L400.84 468.45 L401.26 483.61 L401.68 473.02 L402.1 483.84 L402.52 472.82 L402.94 487.96 L403.36 467.05 L403.78 489.89 L404.2 471.8 L404.62 489.74 L405.04 471.04 L405.46 485.73 L405.88 466.9 L406.3 482.61 L406.72 472.65 L407.14 489.91 L407.56 470.73 L407.98 485.39 L408.4 468.11 L408.82 488.7 L409.24 473.64 L409.66 485.43 L410.08 469.78 L410.5 487.11 L410.92 471.97 L411.34 488.3 L411.76 465.52 L412.18 486.4 L412.6 469.31 L413.02 483.61 L413.44 471.76 L413.86 489.68 L414.28 473.25 L414.7 492.32 L415.12 467.17 L415.54 483.63 L415.96 467.39 L416.38 486.89 L416.8 469.07 L417.22 491.46 L417.64 472.74 L418.06 490.68 L418.48 470.66 L418.9 492.06 L419.32 473.43 L419.74 491.32 L420.16 469.49 L420.58 490.25 L421 471.87 L421.42 483.81 L421.84 472 L422.26 486.42 L422.68 470.46 L423.1 489.93 L423.52 471.28 L423.94 484.37 L424.36 470.62 L424.78 489.15 L425.2 473.61 L425.62 491.8 L426.04 470.25 L426.46 483.53 L426.88 468.01 L427.3 483.66 L427.72 472.09 L428.14 489.58 L428.56 469.87 L428.98 487.75 L429.4 469.21 L429.82 486.66 L430.24 471.67 L430.66 483.74 L431.08 473.53 L431.5 489 L431.92 467.47 L432.34 487.14 L432.76 467.99 L433.18 485.19 L433.6 472.2 L434.02 485.26 L434.44 467.91 L434.86 481.98 L435.28 471.05 L435.7 483.71 L436.12 469.64 L436.54 484.5 L436.96 472.88 L437.38 484.76 L437.8 471.94 L438.22 487.63 L438.64 473.37 L439.06 487.99 L439.48 474.92 L439.9 483.2 L440.32 475.17 L440.74 481.88 L441.16 472.27 L441.58 486.47 L442 475.12 L442.42 482.3 L442.84 474.4 L443.26 486.27 L443.68 473.21 L444.1 486.15 L444.52 474.31 L444.94 481.75 L445.36 475.2 L445.78 482 L446.2 475.09 L446.62 484.45 L447.04 476.15 L447.46 482.17 L447.88 474.7 L448.3 480.61 L448.72 474.61 L449.14 485.75 L449.56 474.2 L449.98 482.45 L450.4 475.18 L450.82 483.38 L451.24 474.94 L451.66 485.25 L452.08 474.77 L452.5 481.43 L452.92 474.28 L453.34 482.16 L453.76 474.93 L454.18 483.07 L454.6 476.53 L455.02 482.99 L455.44 474.71 L455.86 481.69 L456.28 475.06 L456.7 481.5 L457.12 475.96 L457.54 481.73 L457.96 476.38 L458.38 481.54 L458.8 474.62 L459.22 481.25 L459.64 474.82 L460.06 483.25 L460.48 473.84 L460.9 479.92 L461.32 474.08 L461.74 481.87 L462.16 476.25 L462.58 480.86 L463 475.66 L463.42 479.75 L463.84 474.66 L464.26 483.27 L464.68 475.3 L465.1 483.08 L465.52 474.04 L465.94 480.06 L466.36 473.43 L466.78 482.06 L467.2 473.13 L467.62 482.6 L468.04 473.69 L468.46 481.04 L468.88 473.39 L469.3 483.65 L469.72 473.12 L470.14 481.53 L470.56 473.42 L470.98 481.85 L471.4 475.73 L471.82 479.89 L472.24 475.81 L472.66 480.69 L473.08 475.47 L473.5 482.21 L473.92 473.36 L474.34 482.51 L474.76 474.38 L475.18 483.18 L475.6 474.78 L476.02 482.34 L476.44 472.86 L476.86 482.1 L477.28 475.16 L477.7 484.89 L478.12 472.79 L478.54 482.1 L478.96 474.21 L479.38 483.1 L479.8 473.13 L480.22 481.45 L480.64 475.73 L481.06 481.43 L481.48 472.06 L481.9 481.11 L482.32 473.48 L482.74 481.49 L483.16 474.61 L483.58 481.41 L484 473.59 L484.42 481.46 L484.84 475.4 L485.26 481.14 L485.68 474.64 L486.1 483.65 L486.52 475.15 L486.94 480.66 L487.36 473.04 L487.78 483.26 L488.2 471.61 L488.62 480.93 L489.04 473.27 L489.46 483.32 L489.88 475.3 L490.3 487.3 L490.72 474.32 L491.14 481.35 L491.56 473.03 L491.98 481.89 L492.4 472.32 L492.82 483.23 L493.24 474.9 L493.66 481.17 L494.08 471.9 L494.5 482.84 L494.92 471.66 L495.34 484.31 L495.76 471.01 L496.18 483.18 L496.6 474.45 L497.02 483 L497.44 471.94 L497.86 485.9 L498.28 474.23 L498.7 481.81 L499.12 472.89 L499.54 488.86 L499.96 473.44 L500.38 481.2 L500.8 475.86 L501.22 481.97 L501.64 475.39 L502.06 481.57 L502.48 475.91 L502.9 486.62 L503.32 472.98 L503.74 482.83 L504.16 472.83 L504.58 485.01 L505 473.17 L505.42 488.46 L505.84 472.39 L506.26 481.36 L506.68 474.7 L507.1 485.81 L507.52 471.8 L507.94 481.7 L508.36 474.45 L508.78 487.5 L509.2 475.14 L509.62 483.91 L510.04 473.96 L510.46 486.02 L510.88 470.83 L511.3 482.17 L511.72 471.61 L512.14 486.24 L512.56 470.92 L512.98 484.87 L513.4 470.24 L513.82 483.45 L514.24 472.92 L514.66 482.45 L515.08 470.66 L515.5 484.23 L515.92 473.53 L516.34 481.98 L516.76 470.66 L517.18 485.05 L517.6 470.82 L518.02 483.46 L518.44 472.34 L518.86 481.79 L519.28 471.24 L519.7 480.86 L520.12 472.79 L520.54 485.95 L520.96 471.84 L521.38 481.33 L521.8 474.29 L522.22 486.44 L522.64 472.42 L523.06 486.59 L523.48 471.53 L523.9 483.6 L524.32 471.66 L524.74 485.4 L525.16 474.37 L525.58 482.93 L526 475.61 L526.42 483.04 L526.84 472.22 L527.26 481.1 L527.68 473.96 L528.1 481.08 L528.52 475.89 L528.94 484.38 L529.36 475.46 L529.78 480.62 L530.2 475.88 L530.62 484.16 L531.04 474.73 L531.46 480.31 L531.88 475.91 L532.3 485.86 L532.72 476.07 L533.14 483.39 L533.56 475.64 L533.98 484.52 L534.4 475.23 L534.82 484.44 L535.24 475.43 L535.66 481.05 L536.08 476.29 L536.5 480.41 L536.92 474.83 L537.34 480.53 L537.76 476.68 L538.18 484.85 L538.6 476.31 L539.02 484.34 L539.44 476.58 L539.86 482.09 L540.28 476.3 L540.7 483.73 L541.12 475.49 L541.54 482.7 L541.96 475.22 L542.38 483.62 L542.8 476.11 L543.22 482.27 L543.64 475.94 L544.06 480.02 L544.48 475.2 L544.9 481.98 L545.32 475.29 L545.74 480.27 L546.16 475.88 L546.58 481.21 L547 475.59 L547.42 479.63 L547.84 476.33 L548.26 481.07 L548.68 476.84 L549.1 481.2 L549.52 475.77 L549.94 480.63 L550.36 475.97 L550.78 481.13 L551.2 476.7 L551.62 480.19 L552.04 475.57 L552.46 480.04 L552.88 476.46 L553.3 479.21 L553.72 476.81 L554.14 479.38 L554.56 475.9 L554.98 480.82 L555.4 476.04 L555.82 481.34 L556.24 476.43 L556.66 481.03 L557.08 476.58 L557.5 479.67 L557.92 476.18 L558.34 480.64 L558.76 476.25 L559.18 479.6 L559.6 476.51 L560.02 479.34 L560.44 476.36 L560.86 480.49 L561.28 477.06 L561.7 480.65 L562.12 477.19 L562.54 478.89 L562.96 476.81 L563.38 479.42 L563.8 476.98 L564.22 480.34 L564.64 477.31 L565.06 480.73 L565.48 477.08 L565.9 480.01 L566.32 476.97 L566.74 480.96 L567.16 476.51 L567.58 479.77 L568 477.13 L568.42 479.91 L568.84 476.74 L569.26 479.34 L569.68 477 L570.1 481.79 L570.52 476.26 L570.94 482.79 L571.36 475.77 L571.78 482.69 L572.2 476.53 L572.62 480.07 L573.04 476.56 L573.46 481.46 L573.88 476.14 L574.3 481.98 L574.72 476.34 L575.14 483.6 L575.56 476.41 L575.98 481.98 L576.4 475.2 L576.82 483.88 L577.24 476.26 L577.66 481.19 L578.08 475.18 L578.5 480.06 L578.92 476.52 L579.34 483.06 L579.76 475.61 L580.18 481.14 L580.6 476.63 L581.02 481.4 L581.44 474.95 L581.86 482.88 L582.28 474.38 L582.7 484.67 L583.12 474.29 L583.54 480.33 L583.96 476.18 L584.38 480.18 L584.8 475.51 L585.22 481.97 L585.64 476.45 L586.06 483.07 L586.48 476.3 L586.9 481.73 L587.32 475.85 L587.74 484.34 L588.16 475.33 L588.58 481.38 L589 476.35 L589.42 482.23 L589.84 474.61 L590.26 483.46 L590.68 473.7 L591.1 484.09 L591.52 475.64 L591.94 480.58 L592.36 474.02 L592.78 483.85 L593.2 474.74 L593.62 483.99 L594.04 474.55 L594.46 481.2 L594.88 475.75 L595.3 479.89 L595.72 474.14 L596.14 484.25 L596.56 473.19 L596.98 482.16 L597.4 473.94 L597.82 484.49 L598.24 473.36 L598.66 482.9 L599.08 474.71 L599.5 482.5 L599.92 475.54 L600.34 480.82 L600.76 473.63 L601.18 484.99 L601.6 474.15 L602.02 482.02 L602.44 474.91 L602.86 482.29 L603.28 473.36 L603.7 482.31 L604.12 472.89 L604.54 480.77 L604.96 475.16 L605.38 482.73 L605.8 474.88 L606.22 484.51 L606.64 473.56 L607.06 484.98 L607.48 474.32 L607.9 480.17 L608.32 474.5 L608.74 482.9 L609.16 474.83 L609.58 481.41 L610 474.2 L610.42 484.61 L610.84 476.1 L611.26 483.26 L611.68 475.33 L612.1 482.41 L612.52 473.81 L612.94 484.51 L613.36 474.55 L613.78 480.71 L614.2 473.73 L614.62 480.59 L615.04 475.31 L615.46 483.56 L615.88 475.51 L616.3 480.9 L616.72 473.65 L617.14 483.87 L617.56 475.51 L617.98 481.32 L618.4 475.61 L618.82 480.17 L619.24 475.7 L619.66 483.91 L620.08 476.21 L620.5 480.6 L620.92 475.85 L621.34 479.94 L621.76 474.89 L622.18 482.87 L622.6 473.98 L623.02 482.37 L623.44 474.04 L623.86 479.61 L624.28 475.61 L624.7 483.83 L625.12 476.25 L625.54 480.66 L625.96 475.19 L626.38 480.49 L626.8 475.18 L627.22 479.49 L627.64 476.09 L628.06 482.57 L628.48 476.41 L628.9 482.05" stroke="#d6d7d9" stroke-width="0.4" stroke-linejoin="round"/>
<path d="M233.3 467.96 L235.07 490.31 L236.83 447.08 L238.6 489.59 L240.36 444.37 L242.13 495.37 L243.89 451.91 L245.66 500.77 L247.42 455.66 L249.19 499.36 L250.96 466.93 L252.72 504.6 L254.49 455.5 L256.25 497.55 L258.02 460 L259.78 492.16 L261.55 455.99 L263.31 496.44 L265.08 465.68 L266.84 496.11 L268.61 455.9 L270.38 488.78 L272.14 456.34 L273.91 488.56 L275.67 467.12 L277.44 489.44 L279.2 464.69 L280.97 489.11 L282.73 460.89 L284.5 483.76 L286.27 461.08 L288.03 490.2 L289.8 461.93 L291.56 488.8 L293.33 456.82 L295.09 489.17 L296.86 462.03 L298.62 492.06 L300.39 457.67 L302.15 489.11 L303.92 467.48 L305.69 499.28 L307.45 461.03 L309.22 492.09 L310.98 455.85 L312.75 500.31 L314.51 460.36 L316.28 501.64 L318.04 455.05 L319.81 498.4 L321.58 462.51 L323.34 487.73 L325.11 457.12 L326.87 498.34 L328.64 463.5 L330.4 494.22 L332.17 463.52 L333.93 490.55 L335.7 463.29 L337.46 493.49 L339.23 466.59 L341 486.86 L342.76 464.31 L344.53 488.62 L346.29 461.71 L348.06 486.32 L349.82 466.67 L351.59 485.74 L353.35 467.81 L355.12 488.1 L356.89 471.53 L358.65 483.07 L360.42 469.96 L362.18 483.35 L363.95 471.25 L365.71 482.62 L367.48 474.43 L369.24 485.62 L371.01 470.72 L372.77 488.83 L374.54 472.08 L376.31 486.08 L378.07 473.82 L379.84 485.62 L381.6 472.15 L383.37 492.04 L385.13 473.75 L386.9 492.94 L388.66 472.64 L390.43 487.88 L392.2 474.07 L393.96 491.94 L395.73 473.28 L397.49 487.89 L399.26 470.1 L401.02 485.15 L402.79 470.7 L404.55 492.74 L406.32 464.12 L408.08 491.16 L409.85 463.55 L411.62 485.58 L413.38 466.34 L415.15 493.25 L416.91 471.46 L418.68 490.54 L420.44 468.13 L422.21 488.57 L423.97 468.56 L425.74 486.4 L427.51 468.14 L429.27 487.04 L431.04 468.05 L432.8 487.47 L434.57 466.46 L436.33 489.78 L438.1 471.05 L439.86 488.14 L441.63 473.06 L443.39 488.21 L445.16 474.9 L446.93 485.68 L448.69 474.62 L450.46 483.61 L452.22 475.86 L453.99 481.55 L455.75 474.17 L457.52 481.32 L459.28 473.68 L461.05 482.2 L462.82 472.83 L464.58 483.8 L466.35 473.17 L468.11 482.08 L469.88 475.22 L471.64 483.24 L473.41 472.43 L475.17 485.61 L476.94 474.18 L478.7 482.18 L480.47 470.38 L482.24 485.98 L484 472.13 L485.77 486.57 L487.53 473.43 L489.3 485.75 L491.06 470.9 L492.83 486.58 L494.59 473.66 L496.36 483.63 L498.13 471.99 L499.89 489.91 L501.66 474.66 L503.42 483.11 L505.19 474.97 L506.95 488.86 L508.72 472.95 L510.48 485.95 L512.25 469.06 L514.01 486.78 L515.78 472.28 L517.55 487.2 L519.31 473.99 L521.08 484.13 L522.84 471.17 L524.61 483.15 L526.37 474.91 L528.14 484.99 L529.9 474.57 L531.67 487.19 L533.44 475.87 L535.2 485.6 L536.97 475.34 L538.73 484.99 L540.5 475.37 L542.26 483.67 L544.03 475.75 L545.79 481.23 L547.56 475.74 L549.32 482.77 L551.09 476.16 L552.86 480.34 L554.62 476.3 L556.39 479.56 L558.15 476.65 L559.92 480.09 L561.68 476.68 L563.45 480.65 L565.21 476.89 L566.98 479.61 L568.75 476.93 L570.51 481.17 L572.28 476.46 L574.04 482.96 L575.81 476.02 L577.57 484.94 L579.34 475.05 L581.1 485.31 L582.87 474.4 L584.63 484.22 L586.4 474.84 L588.17 482.82 L589.93 475.6 L591.7 485.04 L593.46 474.08 L595.23 481.39 L596.99 472.38 L598.76 483.87 L600.52 473.1 L602.29 483.3 L604.06 475 L605.82 486.36 L607.59 475.05 L609.35 483.02 L611.12 472.81 L612.88 481.49 L614.65 474.34 L616.41 482.83 L618.18 475.07 L619.94 484.57 L621.71 474.59 L623.48 480.63 L625.24 474.47 L627.01 480.21 L628.77 474.74" stroke="#c4c5c7" stroke-width="0.45" stroke-linejoin="round"/>
<path d="M232.4 466.89 L234.05 495.81 L235.7 430.69 L237.35 504.88 L239 439.93 L240.65 500.92 L242.3 428.3 L243.95 506.01 L245.6 446.73 L247.25 519.6 L248.9 440.97 L250.55 506.38 L252.2 442.88 L253.85 512.97 L255.5 451.64 L257.15 503.46 L258.8 452.11 L260.45 513.8 L262.1 454.12 L263.75 499.09 L265.4 456.42 L267.05 496.91 L268.7 454.3 L270.35 503.04 L272 458.26 L273.65 493.19 L275.3 448.37 L276.95 498.12 L278.6 447.15 L280.25 491.46 L281.9 454.01 L283.55 496.28 L285.2 451.44 L286.85 494.41 L288.5 453.67 L290.15 490.56 L291.8 453.46 L293.45 498.71 L295.1 447.99 L296.75 499.23 L298.4 452.36 L300.05 501.08 L301.7 452.68 L303.35 504.96 L305 447.65 L306.65 502.21 L308.3 450.09 L309.95 512.18 L311.6 446.03 L313.25 501.09 L314.9 443.73 L316.55 510.16 L318.2 453.55 L319.85 502.46 L321.5 451.86 L323.15 499.71 L324.8 441.13 L326.45 504.7 L328.1 445.12 L329.75 500.1 L331.4 460.25 L333.05 509.94 L334.7 454.48 L336.35 509.25 L338 455.58 L339.65 501.22 L341.3 454.35 L342.95 495.09 L344.6 455.72 L346.25 497.63 L347.9 460.27 L349.55 497.57 L351.2 460.35 L352.85 494.97 L354.5 461.88 L356.15 491.81 L357.8 464.06 L359.45 492.25 L361.1 462.25 L362.75 492.53 L364.4 465.61 L366.05 491.04 L367.7 470.53 L369.35 493.35 L371 470.26 L372.65 488.94 L374.3 468.63 L375.95 494.43 L377.6 468.5 L379.25 494.78 L380.9 467.89 L382.55 498.49 L384.2 467.97 L385.85 495.29 L387.5 468.7 L389.15 499.17 L390.8 468.05 L392.45 495.12 L394.1 469.15 L395.75 494.92 L397.4 469 L399.05 493.04 L400.7 461.93 L402.35 496.88 L404 465.2 L405.65 498.6 L407.3 460.48 L408.95 500.96 L410.6 461.85 L412.25 494.82 L413.9 461.64 L415.55 502.94 L417.2 464.97 L418.85 503.57 L420.5 465.32 L422.15 497.24 L423.8 466.71 L425.45 497.88 L427.1 464.88 L428.75 495.73 L430.4 461.16 L432.05 499.52 L433.7 462.3 L435.35 491.58 L437 467.5 L438.65 492.05 L440.3 468.18 L441.95 489.28 L443.6 472.3 L445.25 489.66 L446.9 473.54 L448.55 486.7 L450.2 472.8 L451.85 489.79 L453.5 472.59 L455.15 486.94 L456.8 471.59 L458.45 486.76 L460.1 471.11 L461.75 484.92 L463.4 471.33 L465.05 484 L466.7 470.24 L468.35 485.32 L470 471.08 L471.65 488.08 L473.3 471.32 L474.95 485.72 L476.6 468.75 L478.25 488.51 L479.9 471.04 L481.55 486.19 L483.2 469.28 L484.85 486.69 L486.5 466.27 L488.15 488.26 L489.8 468.91 L491.45 490.12 L493.1 468.11 L494.75 490.99 L496.4 468.06 L498.05 493.47 L499.7 470.03 L501.35 490.05 L503 469.29 L504.65 494.3 L506.3 471.76 L507.95 491.82 L509.6 467.54 L511.25 495.07 L512.9 469.72 L514.55 487.95 L516.2 466.49 L517.85 490.47 L519.5 465.06 L521.15 492.82 L522.8 469.28 L524.45 489.69 L526.1 469.6 L527.75 491.84 L529.4 472.38 L531.05 488.32 L532.7 473.94 L534.35 488.94 L536 474.36 L537.65 489.56 L539.3 473.53 L540.95 486.97 L542.6 474.64 L544.25 484.65 L545.9 474.19 L547.55 486.09 L549.2 474.48 L550.85 483.24 L552.5 474.29 L554.15 483.42 L555.8 475.33 L557.45 481.43 L559.1 475.97 L560.75 482.32 L562.4 476.46 L564.05 482.38 L565.7 475.91 L567.35 482.68 L569 475.25 L570.65 485.75 L572.3 474.45 L573.95 486.79 L575.6 474.8 L577.25 485.17 L578.9 473.88 L580.55 487.68 L582.2 473.96 L583.85 490.3 L585.5 473.51 L587.15 489.55 L588.8 471.18 L590.45 485.62 L592.1 470.72 L593.75 486.58 L595.4 472.4 L597.05 485.58 L598.7 472.62 L600.35 487.27 L602 471.32 L603.65 489.24 L605.3 470.28 L606.95 485.52 L608.6 472.05 L610.25 486.87 L611.9 473.06 L613.55 485.66 L615.2 472.83 L616.85 487.02 L618.5 472.62 L620.15 484.37 L621.8 472.95 L623.45 485.74 L625.1 472.04 L626.75 484.08 L628.4 473.01" stroke="#a0a1a3" stroke-width="0.55" stroke-linejoin="round"/>
<path d="M235.6 448.88 L237.55 498.21 L239.5 456 L241.45 501.57 L243.4 452.53 L245.35 502.72 L247.3 457.2 L249.25 498.75 L251.2 457.46 L253.15 497.98 L255.1 463.94 L257.05 497.26 L259 465.86 L260.95 494.94 L262.9 466.9 L264.85 488.64 L266.8 466.28 L268.75 489.14 L270.7 467.46 L272.65 487.55 L274.6 469.13 L276.55 484.97 L278.5 469.92 L280.45 485.27 L282.4 470.14 L284.35 483.1 L286.3 472.81 L288.25 483.88 L290.2 471.7 L292.15 482.72 L294.1 472.69 L296.05 482.29 L298 473.75 L299.95 481.49 L301.9 473.82 L303.85 480.75 L305.8 474.37 L307.75 481.49 L309.7 474.58 L311.65 481 L313.6 474.73 L315.55 480.71 L317.5 474.46 L319.45 480.96 L321.4 474.31 L323.35 480.51 L325.3 475.24 L327.25 480.21 L329.2 475.52 L331.15 479.99 L333.1 475.14 L335.05 480.24 L337 475.52 L338.95 479.79 L340.9 475.71 L342.85 479.72 L344.8 475.46 L346.75 479.7 L348.7 475.26 L350.65 479.86 L352.6 475.75 L354.55 479.68 L356.5 476.04 L358.45 479.81 L360.4 475.63 L362.35 479.47 L364.3 475.73 L366.25 479.34 L368.2 476.13 L370.15 479.24 L372.1 476.2 L374.05 479.43 L376 475.96 L377.95 479.47 L379.9 476.3 L381.85 479.46 L383.8 476.11 L385.75 479.21 L387.7 476.13 L389.65 479.22 L391.6 476.32 L393.55 479.17 L395.5 476.11 L397.45 479.31 L399.4 476 L401.35 479.01 L403.3 476.05 L405.25 479.29 L407.2 476.17 L409.15 479.35 L411.1 476.48 L413.05 479.21 L415 476.14 L416.95 478.87 L418.9 476.32 L420.85 479.23 L422.8 476.49 L424.75 479.15 L426.7 476.24 L428.65 478.93 L430.6 476.61 L432.55 478.81 L434.5 476.34 L436.45 478.87 L438.4 476.59 L440.35 478.85 L442.3 476.36 L444.25 478.75 L446.2 476.76 L448.15 479 L450.1 476.67 L452.05 478.76 L454 476.42 L455.95 478.71 L457.9 476.77 L459.85 478.94 L461.8 476.71 L463.75 478.68 L465.7 476.45 L467.65 478.68 L469.6 476.47 L471.55 478.71 L473.5 476.7 L475.45 478.66 L477.4 476.62 L479.35 478.79 L481.3 476.68 L483.25 478.76 L485.2 476.72 L487.15 478.88 L489.1 476.49 L491.05 478.84 L493 476.54 L494.95 478.58 L496.9 476.75 L498.85 478.63 L500.8 476.79 L502.75 478.9 L504.7 476.53 L506.65 478.87 L508.6 476.66 L510.55 478.58 L512.5 476.71 L514.45 478.55 L516.4 476.54 L518.35 478.62 L520.3 476.77 L522.25 478.86 L524.2 476.81 L526.15 478.85 L528.1 476.77 L530.05 478.75 L532 476.85 L533.95 478.82 L535.9 476.75 L537.85 478.63 L539.8 476.67 L541.75 478.71 L543.7 476.81 L545.65 478.54 L547.6 476.71 L549.55 478.5 L551.5 476.61 L553.45 478.61 L555.4 476.86 L557.35 478.6 L559.3 476.88 L561.25 478.59 L563.2 476.74 L565.15 478.61 L567.1 476.82 L569.05 478.57 L571 476.77 L572.95 478.72 L574.9 476.79 L576.85 478.71 L578.8 476.78 L580.75 478.5 L582.7 476.89 L584.65 478.73 L586.6 476.8 L588.55 478.57 L590.5 476.79 L592.45 478.71 L594.4 476.84 L596.35 478.55 L598.3 476.85 L600.25 478.44 L602.2 476.8 L604.15 478.58 L606.1 476.82 L608.05 478.57 L610 476.83 L611.95 478.64 L613.9 476.92 L615.85 478.72 L617.8 476.95 L619.75 478.68 L621.7 476.94 L623.65 478.65 L625.6 476.92 L627.55 478.43" stroke="#6b6c6e" stroke-width="1.1" stroke-linejoin="round"/>
<line x1="223.4" y1="477.7" x2="629.7" y2="477.7" stroke="#dcc23a" stroke-width="1.3"/>
<path d="M223.4 477.7 L223.55 474.89 L225.2 430.64 L226.85 453.8 L228.5 430 L230.15 456.15 L231.8 441.96 L233.45 461.81 L235.1 452.62 L236.75 466.51 L238.4 456.12 L240.05 467.06 L241.7 458.22 L243.35 468.97 L245 462.72 L246.65 471.26 L248.3 467.85 L249.95 472.69 L251.6 469.34 L253.25 473.42 L254.9 469.84 L256.55 473.98 L258.2 471.07 L259.85 474.57 L261.5 472.47 L263.15 475.08 L264.8 473.29 L266.45 475.44 L268.1 473.53 L269.75 475.72 L271.4 474.08 L273.05 475.95 L274.7 474.56 L276.35 476.18 L278 474.98 L279.65 476.34 L281.3 475.26 L282.95 476.41 L284.6 475.19 L286.25 476.48 L287.9 475.42 L289.55 476.55 L291.2 475.5 L292.85 476.62 L294.5 475.71 L296.15 476.69 L297.8 475.92 L299.45 476.75 L301.1 475.88 L302.75 476.79 L304.4 476.04 L306.05 476.82 L307.7 476.13 L309.35 476.86 L311 476.14 L312.65 476.89 L314.3 476.2 L315.95 476.93 L317.6 476.29 L319.25 476.96 L320.9 476.29 L322.55 477 L324.2 476.42 L325.85 477.03 L327.5 476.41 L329.15 477.07 L330.8 476.51 L332.45 477.09 L334.1 476.5 L335.75 477.1 L337.4 476.62 L339.05 477.12 L340.7 476.63 L342.35 477.14 L344 476.66 L345.65 477.15 L347.3 476.66 L348.95 477.17 L350.6 476.69 L352.25 477.19 L353.9 476.73 L355.55 477.2 L357.2 476.77 L358.85 477.22 L360.5 476.77 L362.15 477.24 L363.8 476.81 L365.45 477.25 L367.1 476.83 L368.75 477.27 L370.4 476.9 L372.05 477.29 L373.7 476.91 L375.35 477.3 L377 476.98 L378.65 477.32 L380 477.7 L378.65 478.42 L377 478.09 L375.35 478.43 L373.7 478.11 L372.05 478.5 L370.4 478.12 L368.75 478.55 L367.1 478.14 L365.45 478.56 L363.8 478.16 L362.15 478.57 L360.5 478.17 L358.85 478.64 L357.2 478.19 L355.55 478.63 L353.9 478.21 L352.25 478.72 L350.6 478.22 L348.95 478.75 L347.3 478.24 L345.65 478.73 L344 478.25 L342.35 478.74 L340.7 478.27 L339.05 478.84 L337.4 478.29 L335.75 478.86 L334.1 478.3 L332.45 478.85 L330.8 478.32 L329.15 478.85 L327.5 478.35 L325.85 478.93 L324.2 478.39 L322.55 479.01 L320.9 478.42 L319.25 479.17 L317.6 478.45 L315.95 479.2 L314.3 478.49 L312.65 479.29 L311 478.52 L309.35 479.22 L307.7 478.56 L306.05 479.35 L304.4 478.59 L302.75 479.44 L301.1 478.63 L299.45 479.56 L297.8 478.68 L296.15 479.58 L294.5 478.75 L292.85 479.86 L291.2 478.82 L289.55 479.95 L287.9 478.89 L286.25 480.06 L284.6 478.96 L282.95 480.09 L281.3 479.03 L279.65 480.39 L278 479.1 L276.35 480.46 L274.7 479.32 L273.05 480.81 L271.4 479.54 L269.75 481.41 L268.1 479.75 L266.45 481.91 L264.8 480.09 L263.15 482.5 L261.5 480.45 L259.85 483.49 L258.2 480.82 L256.55 484.11 L254.9 481.38 L253.25 485.18 L251.6 482.06 L249.95 486.91 L248.3 482.79 L246.65 488.81 L245 484.32 L243.35 490.98 L241.7 486.02 L240.05 497.47 L238.4 489.52 L236.75 504.28 L235.1 494.72 L233.45 515.47 L231.8 501.24 L230.15 527.28 L228.5 502.86 L226.85 519.78 L225.2 493.87 L223.55 480.96Z" fill="#fbdb2e" stroke="#fbdb2e" stroke-width="0.5" stroke-linejoin="round"/>
<path d="M225.5 534.7 L227.3 417 L229.5 500" stroke="#5d5e60" stroke-width="0.9" stroke-opacity="0.85"/>
<path d="M230.8 475 L232.3 421.3 L233.6 475" stroke="#77787a" stroke-width="0.6" stroke-opacity="0.9"/>
</g>
</svg>
</body></html>
